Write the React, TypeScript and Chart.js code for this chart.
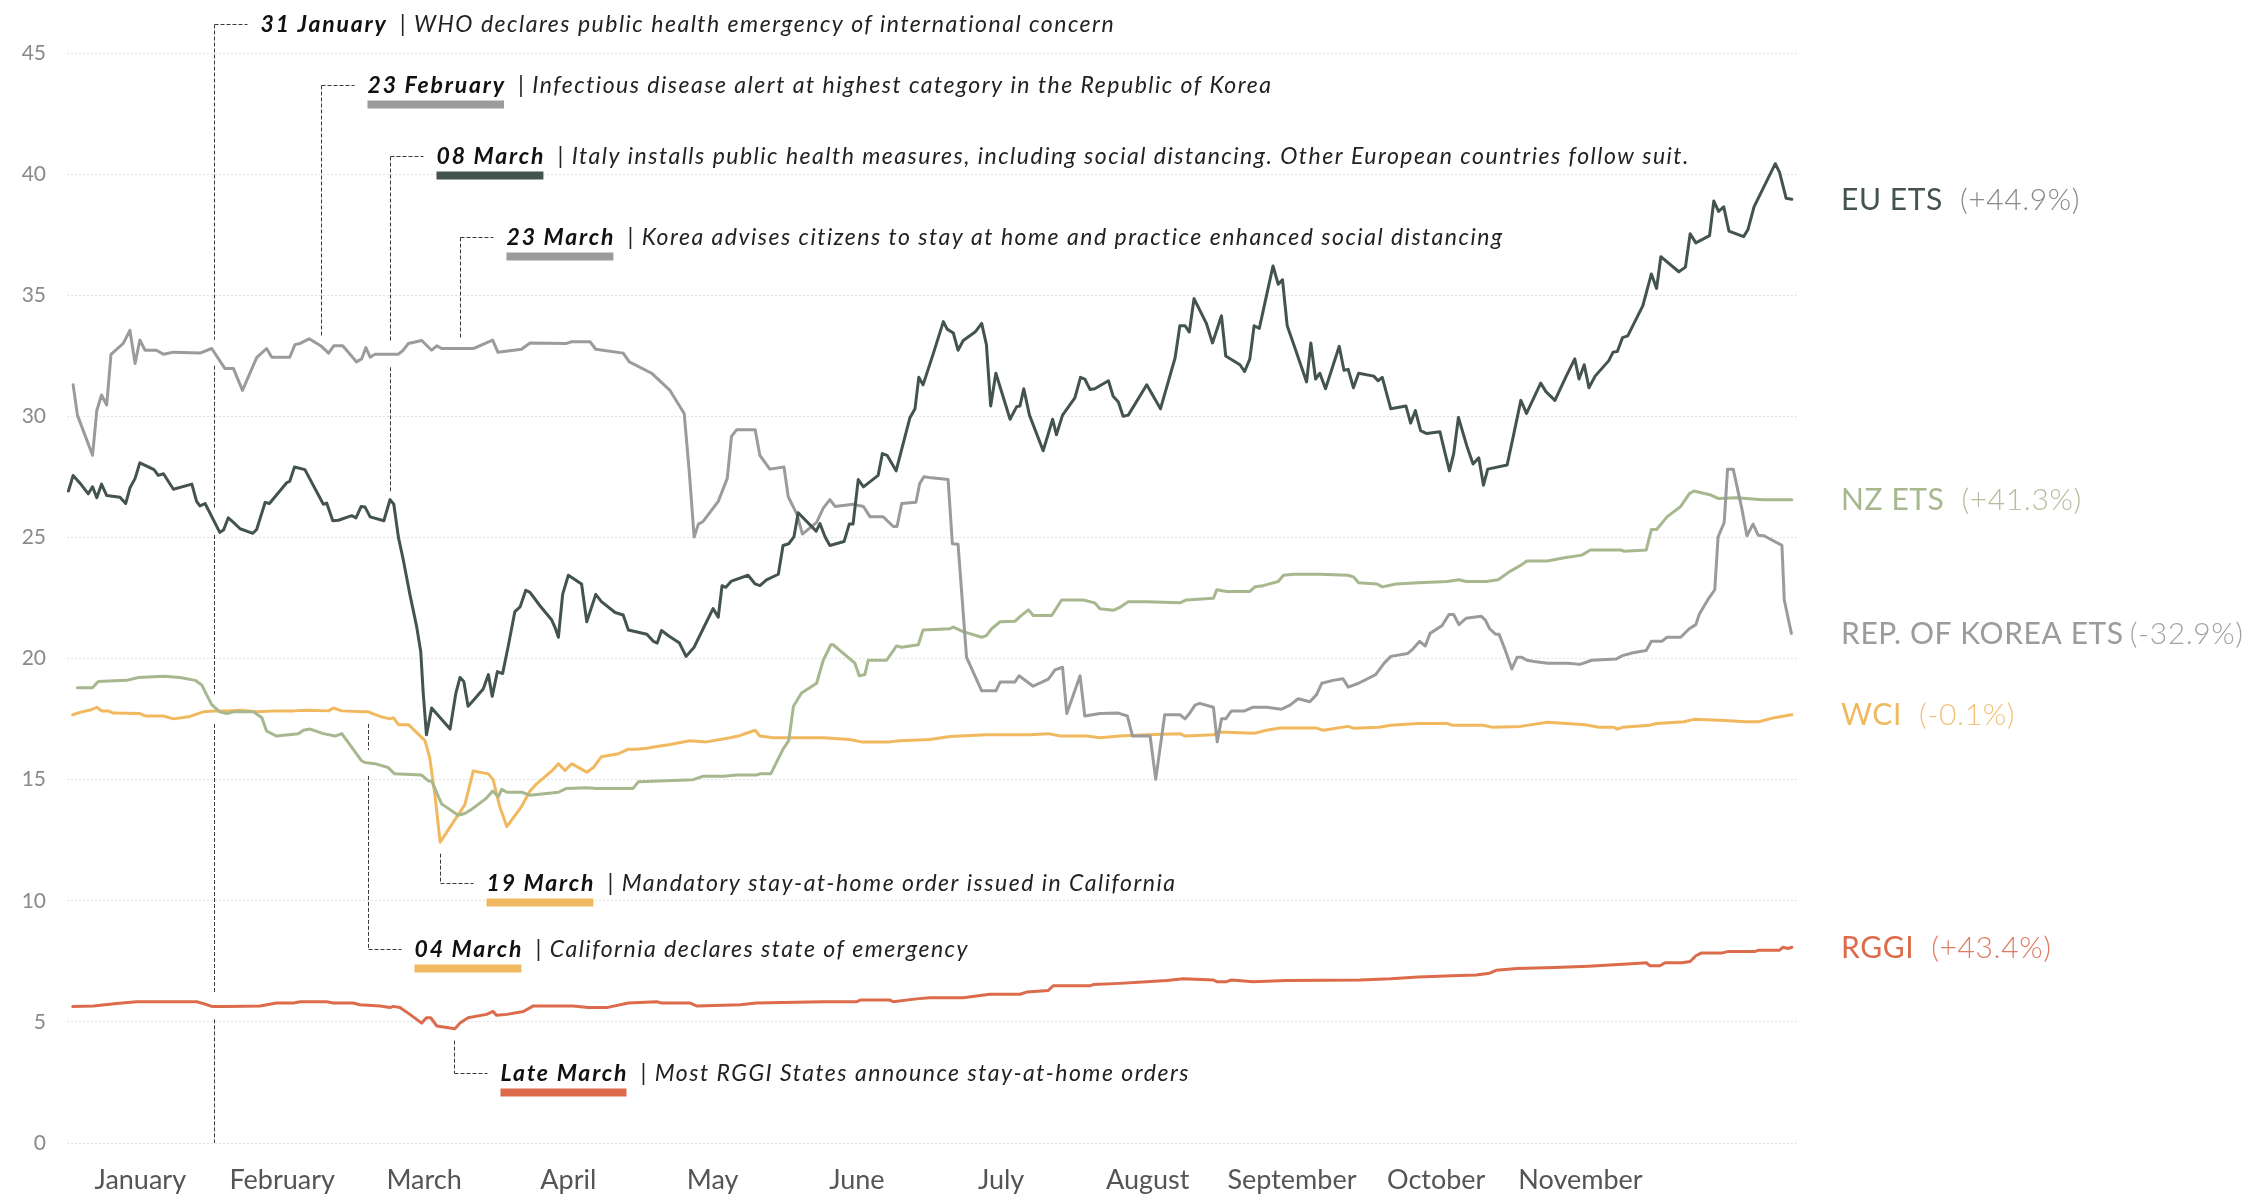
import React, { useEffect, useRef } from 'react';
import { Chart, registerables } from 'chart.js';

Chart.register(...registerables);

// x values are days since 1 January 2020 (0 = Jan 1, 366 = end of year)
const monthTicks = [15.5, 45.5, 75.5, 106, 136.5, 167, 197.5, 228.5, 259, 289.5, 320];
const monthLabels = ['January', 'February', 'March', 'April', 'May', 'June', 'July', 'August', 'September', 'October', 'November'];

const euEts: [number, number][] = [
  [0.3, 26.92], [1.3, 27.56], [2.8, 27.23], [4.5, 26.8], [5.4, 27.09], [6.3, 26.64], [7.3, 27.2], [8.4, 26.73], [11.2, 26.66], [12.4, 26.4],
  [13.3, 27.04], [14.4, 27.44], [15.4, 28.08], [17.2, 27.91], [18.4, 27.8], [19.3, 27.56], [20.4, 27.63], [22.5, 26.99], [26.4, 27.2], [27.4, 26.49],
  [28.1, 26.3], [29.2, 26.4], [32.3, 25.21], [33.1, 25.31], [34.1, 25.81], [35.2, 25.62], [36.6, 25.36], [39.3, 25.17], [40.1, 25.33], [41.9, 26.45],
  [42.8, 26.4], [45, 26.92], [46.4, 27.25], [47.1, 27.32], [48.1, 27.91], [50.3, 27.8], [54.2, 26.37], [54.9, 26.42], [56.2, 25.69], [57.4, 25.71],
  [60.2, 25.9], [61.1, 25.81], [62.2, 26.28], [63, 26.26], [64.1, 25.85], [67, 25.69], [68.3, 26.56], [69.1, 26.37], [70.1, 24.98], [71.1, 24.08],
  [72.5, 22.65], [73.9, 21.35], [74.8, 20.28], [75.3, 18.63], [76, 16.85], [77.1, 17.96], [81, 17.09], [82.2, 18.55], [83.1, 19.22], [83.9, 19.05],
  [84.8, 18.03], [85.9, 18.27], [88, 18.74], [89.1, 19.34], [89.9, 18.44], [91, 19.46], [92.1, 19.38], [93.3, 20.52], [94.7, 21.94], [95.8, 22.13],
  [97, 22.82], [97.9, 22.73], [100, 22.18], [102.5, 21.59], [103.2, 21.28], [103.9, 20.88], [104.8, 22.65], [106, 23.44], [108.8, 23.08], [109.9, 21.52],
  [111.8, 22.65], [113, 22.35], [115.9, 21.9], [117.6, 21.8], [118.7, 21.18], [122.6, 21], [124, 20.71], [124.8, 20.64], [125.7, 21.16], [127.1, 20.95],
  [129.5, 20.64], [130.9, 20.09], [132.6, 20.47], [134.5, 21.23], [136.6, 22.06], [137.7, 21.71], [138.5, 23.01], [139.3, 22.94], [140.5, 23.2], [144, 23.44],
  [145.5, 23.08], [146.5, 23.01], [147.9, 23.25], [150.4, 23.48], [151.4, 24.67], [152.6, 24.74], [153.7, 25.02], [154.6, 26.02], [158.4, 25.26], [159.2, 25.57],
  [160.3, 25.02], [161.3, 24.67], [164.3, 24.83], [165.4, 25.55], [166.2, 25.55], [167.3, 27.39], [168.4, 27.09], [171.5, 27.56], [172.4, 28.46], [173.4, 28.39],
  [175.3, 27.75], [178.2, 29.93], [179.3, 30.31], [180.1, 31.61], [181, 31.3], [183.2, 32.61], [185.3, 33.91], [186.1, 33.6], [187.4, 33.44], [188.4, 32.73],
  [189.5, 33.13], [192, 33.48], [193.4, 33.84], [194.4, 32.96], [195.3, 30.43], [196.4, 31.78], [199.4, 29.88], [200.8, 30.4], [201.5, 30.43], [202.3, 31.14],
  [203.5, 30.05], [206.4, 28.58], [208.4, 29.88], [209.2, 29.24], [210.5, 30.05], [213.1, 30.76], [214.3, 31.61], [215.2, 31.54], [216.3, 31.11], [217.3, 31.14],
  [220.2, 31.47], [221.2, 30.83], [222.3, 30.59], [223.3, 30], [224.4, 30.05], [228.3, 31.3], [231.2, 30.31], [234.3, 32.42], [235.3, 33.74], [236.4, 33.74],
  [237.3, 33.48], [238.3, 34.86], [240.9, 33.84], [242.2, 33.03], [244.1, 34.15], [245, 32.49], [248, 32.13], [249, 31.85], [250.1, 32.37], [251, 33.74],
  [252.1, 33.63], [255, 36.21], [256.1, 35.45], [257, 35.64], [258, 33.74], [259.6, 32.84], [262.1, 31.42], [263, 33.03], [264, 31.54], [264.9, 31.78],
  [266.1, 31.14], [269, 32.89], [270, 31.9], [270.9, 31.94], [272, 31.18], [273.1, 31.78], [276.3, 31.66], [277.2, 31.47], [278.1, 31.61], [279.9, 30.31],
  [283.1, 30.43], [284.1, 29.72], [285.1, 30.24], [286.2, 29.41], [287.5, 29.29], [290.3, 29.36], [291.4, 28.46], [292.3, 27.75], [293.2, 28.46], [294.2, 29.95],
  [296.1, 28.7], [297.3, 28.03], [298.5, 28.29], [299.5, 27.16], [300.4, 27.82], [304.5, 27.99], [305.8, 29.17], [307.4, 30.66], [308.6, 30.12], [311.6, 31.37],
  [312.7, 31.02], [314.6, 30.66], [317, 31.66], [318.8, 32.37], [319.7, 31.54], [320.8, 32.13], [321.8, 31.18], [323.1, 31.66], [326, 32.3], [326.9, 32.65],
  [327.8, 32.68], [328.9, 33.25], [330, 33.32], [333.2, 34.57], [335, 35.88], [336.1, 35.28], [337, 36.59], [340.8, 35.97], [342.2, 36.16], [343.2, 37.54],
  [344.4, 37.16], [347.3, 37.46], [348.2, 38.89], [349.2, 38.46], [350.3, 38.65], [351.4, 37.65], [354.5, 37.42], [355.4, 37.7], [356.7, 38.65], [361.2, 40.43],
  [362.1, 40.07], [363.5, 39], [364.7, 38.96],
];

const koreaEts: [number, number][] = [
  [1.3, 31.3], [2.2, 30.05], [5.4, 28.39], [6.3, 30.24], [7.3, 30.88], [8.4, 30.47], [9.3, 32.56], [11.9, 33.01], [13.3, 33.55], [14.4, 32.18],
  [15.4, 33.15], [16.5, 32.73], [18.9, 32.73], [20.4, 32.56], [22.5, 32.65], [28.1, 32.61], [30.6, 32.8], [33.4, 31.97], [35.2, 31.97], [37.1, 31.07],
  [40.1, 32.42], [42.2, 32.8], [43.3, 32.44], [47.1, 32.44], [48.2, 32.96], [49.3, 33.01], [51.2, 33.2], [53.8, 32.89], [55.3, 32.61], [56.4, 32.91],
  [58.3, 32.91], [61.2, 32.25], [62.3, 32.37], [63.2, 32.84], [64.1, 32.44], [65.1, 32.56], [70, 32.56], [71.1, 32.73], [72.2, 33.01], [75, 33.13],
  [77.1, 32.73], [78.2, 32.91], [79.2, 32.8], [85.9, 32.8], [90, 33.15], [91.1, 32.65], [96.1, 32.77], [97.9, 33.03], [105.6, 33.01], [106.7, 33.08],
  [110.6, 33.08], [111.8, 32.77], [117.6, 32.61], [118.9, 32.25], [123.6, 31.78], [127.5, 31.07], [130.5, 30.12], [131.6, 27.63], [132.6, 25.02], [133.5, 25.55],
  [134.5, 25.66], [137.7, 26.49], [139.6, 27.44], [140.5, 29.17], [141.6, 29.45], [145.5, 29.45], [146.5, 28.39], [148.6, 27.82], [151.6, 27.91], [152.5, 26.68],
  [154.3, 25.97], [155.5, 25.14], [158.5, 25.62], [159.9, 26.21], [161.3, 26.56], [162.4, 26.28], [166.2, 26.37], [168.4, 26.28], [169.8, 25.85], [172.6, 25.85],
  [174.7, 25.45], [175.5, 25.45], [176.5, 26.4], [179.5, 26.45], [180.3, 27.23], [181.2, 27.51], [182.8, 27.46], [186.3, 27.39], [187.2, 24.74], [188.4, 24.72],
  [190.2, 20.05], [193.4, 18.67], [196.4, 18.67], [197.3, 19.03], [200.4, 19.03], [201.3, 19.29], [204.3, 18.86], [207.5, 19.15], [208.9, 19.53], [210.5, 19.64],
  [211.4, 17.73], [214.2, 19.29], [215.2, 17.63], [218.4, 17.73], [222.3, 17.75], [224.2, 17.63], [225.3, 16.8], [229, 16.8], [230.2, 15.02], [232.1, 17.68],
  [235.3, 17.68], [236.4, 17.51], [237.4, 17.75], [238.5, 18.08], [239.5, 18.15], [242.4, 17.99], [243.2, 16.56], [244.1, 17.51], [245, 17.51], [246.2, 17.84],
  [249, 17.84], [250.8, 17.99], [253.6, 17.99], [256.8, 17.91], [258.6, 18.08], [260.3, 18.34], [262.8, 18.22], [264.2, 18.51], [265.3, 18.98], [267.7, 19.1],
  [269.8, 19.17], [270.9, 18.82], [273.1, 18.98], [276.7, 19.34], [278.5, 19.81], [279.9, 20.09], [283.5, 20.21], [284.6, 20.4], [286, 20.71], [287.2, 20.52],
  [288.2, 21.04], [290.7, 21.35], [292.2, 21.82], [293.2, 21.82], [294.3, 21.4], [295.8, 21.66], [299, 21.75], [299.9, 21.59], [300.8, 21.23], [302.1, 21],
  [302.8, 21], [304, 20.4], [305.5, 19.57], [306.6, 20.05], [307.6, 20.05], [308.7, 19.93], [310.2, 19.88], [313.1, 19.81], [317.4, 19.81], [319.9, 19.76],
  [322.4, 19.93], [327.5, 19.98], [328.9, 20.12], [331.1, 20.24], [333.9, 20.33], [335, 20.71], [337.2, 20.71], [338.3, 20.88], [341.2, 20.88], [343, 21.23],
  [344.4, 21.4], [345.1, 21.82], [346.9, 22.42], [348.4, 22.84], [349.1, 25.02], [350.4, 25.62], [351.1, 27.82], [352.3, 27.82], [354.1, 26.21], [355.2, 25.07],
  [356.5, 25.55], [357.6, 25.09], [358.8, 25.07], [362.6, 24.67], [363.1, 22.42], [364.6, 21.04],
];

const nzEts: [number, number][] = [
  [2.2, 18.79], [5.4, 18.79], [6.6, 19.05], [12.6, 19.1], [15.1, 19.22], [20.4, 19.27], [23.9, 19.22], [27.1, 19.1], [28.5, 18.91], [29.5, 18.51],
  [30.6, 18.1], [32.3, 17.8], [33.8, 17.73], [35.2, 17.8], [39.4, 17.8], [41.2, 17.56], [42.2, 17.01], [44.3, 16.8], [48.9, 16.9], [50, 17.04],
  [51.4, 17.09], [54.2, 16.9], [56.7, 16.8], [58.1, 16.9], [62.3, 15.78], [63, 15.71], [65.1, 15.66], [67.9, 15.5], [69.3, 15.24], [75, 15.19],
  [76.4, 14.95], [77.1, 14.95], [79.2, 14], [82.7, 13.53], [84.1, 13.6], [85.5, 13.77], [88.7, 14.24], [90, 14.53], [91.2, 14.3], [91.9, 14.6],
  [93, 14.48], [96.1, 14.48], [97.9, 14.36], [103.9, 14.48], [105.6, 14.64], [109.9, 14.67], [112, 14.64], [119.7, 14.64], [120.8, 14.91], [132.4, 15],
  [134.5, 15.14], [138.8, 15.14], [141.6, 15.19], [145.8, 15.19], [146.5, 15.24], [148.8, 15.24], [151.4, 16.26], [152.6, 16.61], [153.6, 18.03], [155.3, 18.58],
  [158.5, 18.98], [159.9, 19.93], [161.5, 20.57], [162, 20.57], [166.6, 19.81], [167.5, 19.29], [168.7, 19.34], [169.4, 19.93], [173.3, 19.93], [175.4, 20.52],
  [176.5, 20.47], [180, 20.57], [181, 21.18], [186.7, 21.23], [187.4, 21.3], [189.5, 21.11], [193.4, 20.88], [194.4, 20.95], [195.5, 21.23], [197.3, 21.52],
  [200.4, 21.54], [201.8, 21.78], [203.3, 22.01], [204.3, 21.78], [208.2, 21.78], [210.3, 22.42], [214.9, 22.42], [217.3, 22.3], [218.4, 22.06], [221.2, 21.99],
  [222.6, 22.11], [224.4, 22.35], [228.3, 22.35], [235.3, 22.3], [236.7, 22.42], [242.4, 22.49], [243.1, 22.84], [245.2, 22.77], [250.1, 22.77], [251.2, 22.96],
  [252.9, 23.01], [256.1, 23.18], [257.2, 23.44], [259.3, 23.48], [264.9, 23.48], [270.9, 23.44], [272.1, 23.36], [273.1, 23.13], [277, 23.08], [278.1, 22.96],
  [281, 23.08], [285.7, 23.13], [291.8, 23.18], [294.3, 23.25], [295.8, 23.18], [300.1, 23.18], [302.6, 23.25], [305.1, 23.6], [307.3, 23.84], [308.7, 24.03],
  [313, 24.03], [316.3, 24.15], [320.3, 24.27], [322.1, 24.48], [328.5, 24.48], [329.3, 24.43], [333.9, 24.48], [335, 25.33], [336.1, 25.33], [338.3, 25.85],
  [341.2, 26.28], [343, 26.8], [344, 26.92], [347.6, 26.75], [349.1, 26.61], [353, 26.64], [358.5, 26.56], [364.7, 26.56],
];

const wci: [number, number][] = [
  [1.2, 17.68], [3.1, 17.8], [5.2, 17.89], [6.3, 17.99], [7.3, 17.84], [8.7, 17.84], [9.8, 17.75], [15.4, 17.73], [16.5, 17.63], [20.4, 17.63],
  [22.5, 17.51], [26, 17.61], [28.8, 17.8], [31.6, 17.84], [33.8, 17.84], [36.6, 17.87], [40.1, 17.8], [44.3, 17.84], [47.9, 17.84], [50.7, 17.87],
  [55.3, 17.84], [56.3, 17.96], [58.1, 17.84], [62.7, 17.8], [63.7, 17.8], [66.2, 17.61], [68.3, 17.51], [69, 17.56], [70.1, 17.27], [72.2, 17.27],
  [75.7, 16.61], [76.7, 15.9], [77.8, 14.36], [78.9, 12.42], [84.1, 13.96], [85.9, 15.36], [89.1, 15.24], [90.1, 15], [91.5, 13.89], [93, 13.06],
  [96.1, 13.89], [97.9, 14.53], [99.3, 14.83], [102.5, 15.36], [103.9, 15.66], [105.3, 15.38], [106.7, 15.66], [109.9, 15.31], [111.3, 15.5], [113, 15.95],
  [116.6, 16.07], [118.7, 16.26], [120.4, 16.26], [122.6, 16.3], [124.7, 16.37], [127.5, 16.45], [131.7, 16.61], [135.2, 16.56], [140.2, 16.73], [141.9, 16.8],
  [145.5, 17.04], [146.5, 16.8], [149.3, 16.73], [159.9, 16.73], [165.5, 16.66], [168, 16.56], [174, 16.56], [176.1, 16.61], [182.4, 16.66], [186.7, 16.78],
  [194.4, 16.85], [203.6, 16.85], [207.5, 16.9], [210, 16.8], [215.6, 16.8], [218.4, 16.73], [222.6, 16.8], [228.3, 16.85], [235.3, 16.9], [236.4, 16.8],
  [242.4, 16.85], [243.4, 16.97], [251.2, 16.92], [253.6, 17.04], [256.5, 17.13], [264.2, 17.13], [265.6, 17.04], [270.9, 17.2], [272.1, 17.12], [277.4, 17.16],
  [279.9, 17.25], [285.7, 17.32], [291.8, 17.32], [292.9, 17.25], [299.4, 17.25], [301.5, 17.16], [307.3, 17.2], [313, 17.37], [321, 17.27], [323.9, 17.16],
  [327.1, 17.16], [327.8, 17.09], [328.9, 17.16], [334.7, 17.25], [336.1, 17.32], [341.9, 17.39], [344, 17.49], [350.5, 17.44], [354.9, 17.39], [357.7, 17.39],
  [361, 17.56], [363.1, 17.63], [364.7, 17.68],
];

const rggi: [number, number][] = [
  [1.2, 5.64], [5.6, 5.66], [10.5, 5.76], [14.7, 5.83], [19.7, 5.83], [27.4, 5.83], [28.8, 5.76], [30.6, 5.64], [33.8, 5.64], [40.8, 5.66],
  [44.3, 5.78], [47.9, 5.78], [49.3, 5.83], [54.9, 5.83], [56.3, 5.78], [60.5, 5.78], [61.9, 5.71], [66.2, 5.66], [68.3, 5.59], [69, 5.64],
  [70.4, 5.59], [72.5, 5.31], [75, 4.95], [76, 5.17], [76.9, 5.17], [78.2, 4.83], [82, 4.72], [83.1, 4.95], [84.8, 5.17], [88.7, 5.31],
  [90.1, 5.43], [90.8, 5.27], [93, 5.31], [96.5, 5.43], [98.6, 5.66], [107, 5.66], [110.2, 5.59], [114.1, 5.59], [118.7, 5.78], [124.7, 5.83],
  [125.7, 5.78], [131.7, 5.78], [133.1, 5.66], [142.3, 5.71], [145.8, 5.78], [159.9, 5.83], [166.9, 5.83], [167.7, 5.9], [174, 5.9], [174.7, 5.83],
  [179.6, 5.95], [182.4, 6.0], [189.5, 6], [195.1, 6.14], [201.5, 6.14], [202.9, 6.23], [207.5, 6.3], [208.5, 6.49], [216.3, 6.49], [217, 6.54],
  [222.6, 6.59], [228.3, 6.66], [232.5, 6.71], [236, 6.78], [242.4, 6.73], [243.1, 6.66], [245.2, 6.66], [246.2, 6.73], [250.8, 6.66], [257.9, 6.71],
  [273.4, 6.73], [279.9, 6.78], [285.7, 6.85], [292.9, 6.9], [297.9, 6.94], [300.8, 7.01], [302.2, 7.13], [306.6, 7.2], [314.5, 7.25], [321.7, 7.3],
  [332.5, 7.42], [333.9, 7.44], [334.7, 7.32], [336.8, 7.32], [337.9, 7.44], [341.5, 7.44], [343.2, 7.49], [344.4, 7.73], [345.5, 7.84], [349.8, 7.84],
  [351.3, 7.91], [357, 7.91], [357.7, 7.96], [362.1, 7.96], [362.8, 8.08], [363.9, 8.03], [364.7, 8.08],
];

const seriesNames = ['EU ETS', 'REP. OF KOREA ETS', 'NZ ETS', 'WCI', 'RGGI'];
const seriesChanges = ['(+44.9%)', '(-32.9%)', '(+41.3%)', '(-0.1%)', '(+43.4%)'];
const seriesData = [euEts, koreaEts, nzEts, wci, rggi];

// events: day of year, date text, note text
const eventDays = [31, 53.7, 68.3, 83, 78.8, 63.7, 81.8];
const eventDates = ['31 January', '23 February', '08 March', '23 March', '19 March', '04 March', 'Late March'];
const eventNotes = [
  '| WHO declares public health emergency of international concern',
  '| Infectious disease alert at highest category in the Republic of Korea',
  '| Italy installs public health measures, including social distancing. Other European countries follow suit.',
  '| Korea advises citizens to stay at home and practice enhanced social distancing',
  '| Mandatory stay-at-home order issued in California',
  '| California declares state of emergency',
  '| Most RGGI States announce stay-at-home orders',
];

// ---------- styles / layout ----------
const lineColors = ['#43534f', '#9b9b9b', '#a7b78e', '#f1b95f', '#dc6b4c'];
const pctColors = ['#858b8a', '#a3a3a3', '#b3bf9f', '#f3c278', '#df7c61'];
const labelGaps = [17, 6, 17, 17, 17];
// row: y level (axis units) of the text row; anchor: series index the leader hangs on (-1 = axis floor)
const eventLayout = [
  { row: 46.2, anchor: -1, above: true, bar: null as string | null },
  { row: 43.68, anchor: 1, above: true, bar: '#9b9b9b' },
  { row: 40.75, anchor: 0, above: true, bar: '#43534f' },
  { row: 37.4, anchor: 1, above: true, bar: '#9b9b9b' },
  { row: 10.72, anchor: 3, above: false, bar: '#f1b95f' },
  { row: 8.02, anchor: 3, above: false, bar: '#f1b95f' },
  { row: 2.9, anchor: 4, above: false, bar: '#dc6b4c' },
];

const FONT = 'Lato, "Noto Sans", sans-serif';

function setSpacing(ctx: any, v: string) {
  if ('letterSpacing' in ctx) ctx.letterSpacing = v;
}

function yOnSeries(chart: any, idx: number, px: number): number | null {
  const pts = chart.getDatasetMeta(idx).data as any[];
  for (let k = 0; k < pts.length - 1; k++) {
    const a = pts[k], b = pts[k + 1];
    if (px >= a.x && px <= b.x) {
      const f = b.x === a.x ? 0 : (px - a.x) / (b.x - a.x);
      return a.y + f * (b.y - a.y);
    }
  }
  return null;
}

const eventsPlugin = {
  id: 'events',
  afterDatasetsDraw(chart: any) {
    const { ctx, scales } = chart;
    const xs = scales.x, ys = scales.y;
    ctx.save();
    eventDays.forEach((d, i) => {
      const L = eventLayout[i];
      const lx = Math.round(xs.getPixelForValue(d)) + 0.5;
      const ry = Math.round(ys.getPixelForValue(L.row)) + 0.5;
      let y0: number, y1: number;
      if (L.anchor < 0) {
        y0 = ry; y1 = ys.getPixelForValue(0);
      } else if (L.above) {
        y0 = ry; y1 = (yOnSeries(chart, L.anchor, lx) ?? ry) - 9;
      } else {
        y0 = (yOnSeries(chart, L.anchor, lx) ?? ry) + 12; y1 = ry;
      }
      const cuts: [number, number][] = [];
      seriesData.forEach((_, j) => {
        if (j === L.anchor) return;
        const sy = yOnSeries(chart, j, lx);
        if (sy != null && sy > y0 && sy < y1) cuts.push([sy - 13, sy + 13]);
      });
      cuts.sort((a, b) => a[0] - b[0]);
      const merged: [number, number][] = [];
      cuts.forEach(c => {
        const last = merged[merged.length - 1];
        if (last && c[0] <= last[1]) last[1] = Math.max(last[1], c[1]);
        else merged.push([c[0], c[1]]);
      });
      ctx.strokeStyle = '#3a3a3a';
      ctx.lineWidth = 1;
      ctx.setLineDash([4, 2]);
      ctx.beginPath();
      let cur = y0;
      merged.forEach(([a, b]) => {
        if (a > cur) { ctx.moveTo(lx, cur); ctx.lineTo(lx, a); }
        cur = Math.max(cur, b);
      });
      if (cur < y1) { ctx.moveTo(lx, cur); ctx.lineTo(lx, y1); }
      ctx.moveTo(lx, ry);
      ctx.lineTo(lx + 33, ry);
      ctx.stroke();
      ctx.setLineDash([]);

      const tx = lx + 46;
      ctx.textBaseline = 'middle';
      ctx.textAlign = 'left';
      setSpacing(ctx, '1.8px');
      ctx.font = `italic bold 23px ${FONT}`;
      ctx.fillStyle = '#111';
      ctx.fillText(eventDates[i], tx, ry);
      const dw = ctx.measureText(eventDates[i]).width - 1.8;
      setSpacing(ctx, '1.5px');
      ctx.font = `italic 400 23px ${FONT}`;
      ctx.fillStyle = '#222';
      ctx.fillText(eventNotes[i], tx + dw + 14, ry);
      setSpacing(ctx, '0px');
      if (L.bar) {
        ctx.fillStyle = L.bar;
        ctx.fillRect(tx, ry + 15, dw, 8);
      }
    });
    ctx.restore();
  },
  afterDraw(chart: any) {
    const { ctx } = chart;
    ctx.save();
    ctx.textBaseline = 'middle';
    ctx.textAlign = 'left';
    setSpacing(ctx, '0.6px');
    seriesData.forEach((_, i) => {
      const pts = chart.getDatasetMeta(i).data as any[];
      const last = pts[pts.length - 1];
      const y = last.y + 1;
      const x = 1841;
      ctx.font = `400 30px ${FONT}`;
      ctx.fillStyle = lineColors[i];
      ctx.fillText(seriesNames[i], x, y);
      const w = ctx.measureText(seriesNames[i]).width;
      ctx.font = `300 30px ${FONT}`;
      ctx.fillStyle = pctColors[i];
      ctx.fillText(seriesChanges[i], x + w + labelGaps[i], y);
    });
    setSpacing(ctx, '0px');
    ctx.restore();
  },
};

export default function App() {
  const ref = useRef<HTMLCanvasElement>(null);
  useEffect(() => {
    if (!ref.current) return;
    const chart = new Chart(ref.current, {
      type: 'line',
      data: {
        datasets: seriesData.map((s, i) => ({
          label: seriesNames[i],
          data: s.map(([x, y]) => ({ x, y })),
          borderColor: lineColors[i],
          backgroundColor: lineColors[i],
          borderWidth: 3,
          pointRadius: 0,
          tension: 0,
          fill: false,
          borderJoinStyle: 'round' as const,
          borderCapStyle: 'round' as const,
        })),
      },
      options: {
        animation: false,
        responsive: true,
        maintainAspectRatio: false,
        events: [],
        layout: { padding: { top: 53, right: 460, bottom: 0, left: 0 } },
        plugins: { legend: { display: false }, tooltip: { enabled: false } },
        scales: {
          x: {
            type: 'linear',
            min: 0,
            max: 366,
            afterBuildTicks: (scale: any) => { scale.ticks = monthTicks.map(v => ({ value: v })); },
            afterFit: (scale: any) => { scale.height = 52; },
            grid: { display: false, drawTicks: false },
            border: { display: false },
            ticks: {
              autoSkip: false,
              maxRotation: 0,
              padding: 21,
              color: '#555',
              font: { family: FONT, size: 27 },
              callback: (_v: any, i: number) => monthLabels[i],
            },
          },
          y: {
            min: 0,
            max: 45,
            afterFit: (scale: any) => { scale.width = 67; },
            grid: { color: '#e3e3e3', lineWidth: 1, drawTicks: false },
            border: { display: false, dash: [2, 2] },
            ticks: {
              stepSize: 5,
              padding: 21,
              color: '#8a8a8a',
              font: { family: FONT, size: 21 },
            },
          },
        },
      },
      plugins: [eventsPlugin],
    } as any);
    return () => chart.destroy();
  }, []);
  return (
    <div style={{ position: 'fixed', left: 0, top: 0, width: 2258, height: 1195, background: '#fff' }}>
      <canvas ref={ref} />
    </div>
  );
}
